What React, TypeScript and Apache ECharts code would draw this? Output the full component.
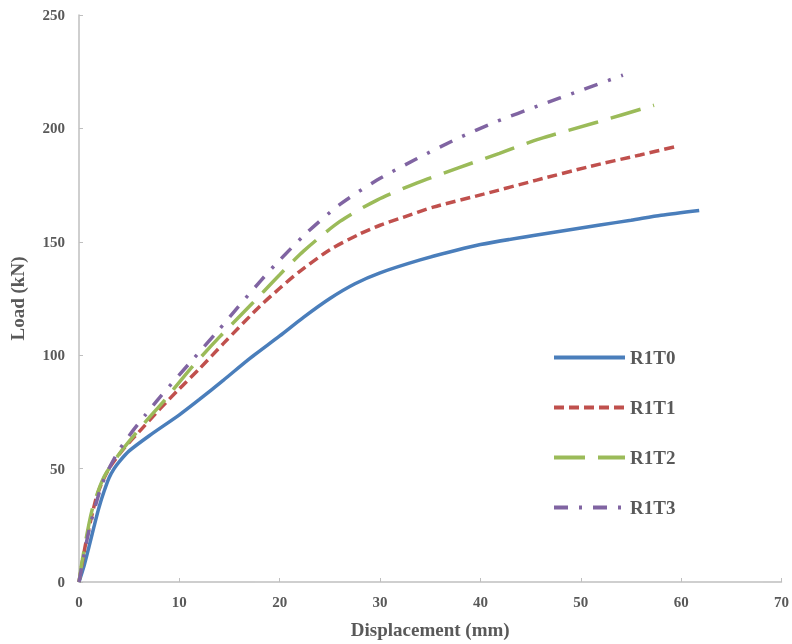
import React, { useEffect, useRef } from "react";
import * as echarts from "echarts";

const seriesNames = ["R1T0", "R1T1", "R1T2", "R1T3"];
const colors = ["#4A7EBB", "#C0504D", "#9BBB59", "#8064A2"];
const xTicks = [0, 10, 20, 30, 40, 50, 60, 70];
const yTicks = [0, 50, 100, 150, 200, 250];

const r1t0: number[][] = [[0,0],[0.5,7],[1,15.6],[1.5,24.5],[2,33],[2.5,40],[3,46],[3.5,50],[4,53],[5,57.8],[7,64.5],[10,73.7],[12,80.5],[14.4,89],[17,98.5],[20,108.5],[22.4,116.8],[25,125],[27.5,131.5],[30,136.3],[34,142],[37.6,146.3],[40,148.8],[45.3,152.8],[51.9,157.4],[55,159.5],[58,161.7],[61.8,163.8]];
const r1t1: number[][] = [[0,0],[0.67,17],[1.66,36.2],[2.3,44],[3.1,50.8],[4.5,59],[6,66.3],[8,76],[10,85.2],[12,94],[14.4,105.2],[18,121.5],[20,129.5],[22,137],[25,146.5],[28,153.5],[30,157.3],[32.3,160.8],[35.3,165.3],[40.3,171],[45.6,177.2],[50.9,183.2],[55.9,188.3],[59.3,191.8]];
const r1t2: number[][] = [[0,0],[0.33,9.7],[1.3,31.7],[2.5,46.4],[4.3,58.2],[6.6,70.5],[8.5,80],[11.1,94],[14.1,108.5],[17.3,123],[20,135.5],[22.4,146],[26,159],[29.7,168.4],[33.7,176],[37.8,182.6],[41.9,189],[45.9,195.4],[51.6,202.7],[57.3,210.2]];
const r1t3: number[][] = [[0,0],[1,22.9],[2.2,42],[3,50.1],[4,58.2],[5.3,66.3],[6.6,73.6],[8.05,81.4],[11,96.4],[13.8,110.5],[15.8,121],[18.1,132.8],[19.6,140.1],[22.7,154],[26,166.5],[29.7,177.2],[33.6,186.5],[37.6,195.3],[41.6,203],[45.8,210],[49.9,216.6],[54.2,223.5]];

const dataSets = [r1t0, r1t1, r1t2, r1t3];
const dashes: (string | number[])[] = ["solid", [10, 5], [31, 13], [14, 11, 3, 11]];

const FONT = "'Liberation Serif', 'Times New Roman', serif";
const TEXT = "#595959";

export default function App() {
  const ref = useRef<HTMLDivElement>(null);
  useEffect(() => {
    if (!ref.current) return;
    const chart = echarts.init(ref.current, undefined, { renderer: "svg" });
    chart.setOption({
      animation: false,
      grid: { left: 78, right: 10, top: 15, bottom: 62, containLabel: false },
      legend: {
        orient: "vertical",
        left: 552,
        top: 348,
        padding: 0,
        itemWidth: 71,
        itemHeight: 20,
        itemGap: 31,
        data: seriesNames,
        itemStyle: { opacity: 0 },
        lineStyle: { width: 4 },
        textStyle: { fontFamily: FONT, fontWeight: "bold", fontSize: 19, color: TEXT },
      },
      xAxis: {
        type: "value",
        min: 0,
        max: xTicks[xTicks.length - 1],
        interval: 10,
        name: "Displacement (mm)",
        nameLocation: "middle",
        nameGap: 38,
        nameTextStyle: { fontFamily: FONT, fontWeight: "bold", fontSize: 19, color: TEXT },
        axisLine: { lineStyle: { color: "#BFBFBF", width: 1.5 } },
        axisTick: { show: true, inside: true, length: 4, lineStyle: { color: "#BFBFBF" } },
        axisLabel: { fontFamily: FONT, fontWeight: "bold", fontSize: 15, color: TEXT, margin: 12 },
        splitLine: { show: false },
      },
      yAxis: {
        type: "value",
        min: 0,
        max: yTicks[yTicks.length - 1],
        interval: 50,
        name: "Load (kN)",
        nameLocation: "middle",
        nameGap: 52,
        nameTextStyle: { fontFamily: FONT, fontWeight: "bold", fontSize: 19, color: TEXT },
        axisLine: { show: true, lineStyle: { color: "#BFBFBF", width: 1.5 } },
        axisTick: { show: true, inside: true, length: 4, lineStyle: { color: "#BFBFBF" } },
        axisLabel: { fontFamily: FONT, fontWeight: "bold", fontSize: 15, color: TEXT, margin: 14 },
        splitLine: { show: false },
      },
      series: seriesNames.map((name, i) => ({
        name,
        type: "line",
        data: dataSets[i],
        smooth: 0.25,
        symbol: "none",
        showSymbol: false,
        color: colors[i],
        lineStyle: { color: colors[i], width: 3.5, type: dashes[i] },
      })),
    });
    return () => chart.dispose();
  }, []);
  return (
    <div
      ref={ref}
      style={{ position: "fixed", left: 0, top: 0, width: 792, height: 644 }}
    />
  );
}
